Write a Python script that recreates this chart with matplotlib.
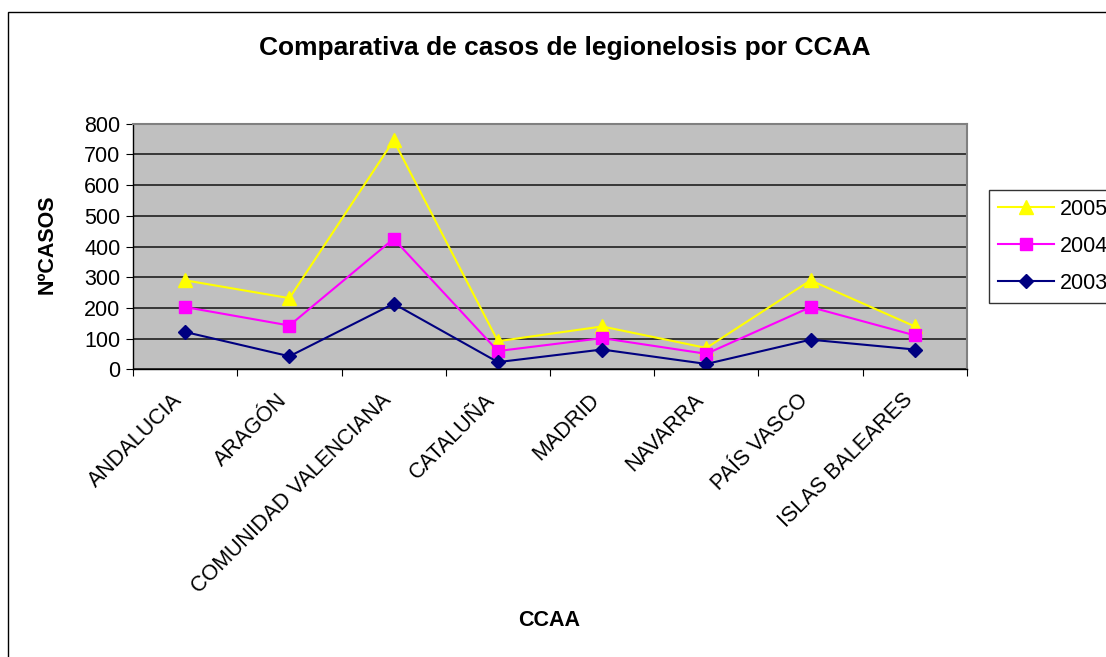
import matplotlib.pyplot as plt
import matplotlib.transforms as mtransforms
from matplotlib.patches import Rectangle

# Data
regiones = ['ANDALUCIA', 'ARAGÓN', 'COMUNIDAD VALENCIANA', 'CATALUÑA',
            'MADRID', 'NAVARRA', 'PAÍS VASCO', 'ISLAS BALEARES']
casos_2005 = [290, 232, 745, 92, 140, 70, 290, 140]
casos_2004 = [203, 143, 425, 60, 102, 51, 203, 111]
casos_2003 = [122, 43, 214, 24, 65, 18, 97, 65]

plt.rcParams['font.family'] = ['Liberation Sans', 'DejaVu Sans']
FS = 15.5

fig = plt.figure(figsize=(11.06, 6.57), dpi=100)
ax = fig.add_axes([0.1203, 0.4376, 0.754, 0.3744])

# outer chart border (runs off the right and bottom edges)
fig.patches.append(Rectangle((8 / 1106, -0.1), 1.2, 1 - 12 / 657 + 0.1,
                             transform=fig.transFigure, fill=False,
                             ec='black', lw=1))

ax.set_facecolor('#C0C0C0')
x = [i + 0.5 for i in range(len(regiones))]

ax.plot(x, casos_2005, color='#FFFF00', marker='^', markersize=10.5, lw=1.5, label='2005')
ax.plot(x, casos_2004, color='#FF00FF', marker='s', markersize=8.5, lw=1.5, label='2004')
ax.plot(x, casos_2003, color='#000080', marker='D', markersize=7.5, lw=1.5, label='2003')

ax.set_xlim(0, len(regiones))
ax.set_ylim(0, 800)
ax.set_yticks(range(0, 801, 100))
ax.yaxis.grid(True, color='#202020', lw=1.2)
ax.set_axisbelow(True)

# category boundaries as ticks, names drawn as rotated texts under each point
ax.set_xticks(range(len(regiones) + 1))
ax.set_xticklabels([])
label_trans = ax.get_xaxis_transform() + mtransforms.ScaledTranslation(
    -13 / 100, -20 / 100, fig.dpi_scale_trans)
for xi, nombre in zip(x, regiones):
    ax.text(xi, 0, nombre, transform=label_trans, rotation=45, ha='right',
            va='top', rotation_mode='anchor', fontsize=FS)
ax.tick_params(axis='x', which='major', length=5, direction='out', color='black')
ax.tick_params(axis='y', length=5, direction='out', labelsize=FS, color='black', pad=4)

for side in ['top', 'right']:
    ax.spines[side].set_color('#808080')
    ax.spines[side].set_linewidth(1.5)
for side in ['left', 'bottom']:
    ax.spines[side].set_color('black')
    ax.spines[side].set_linewidth(1)

fig.text(47 / 1106, 1 - 244 / 657, 'NºCASOS', fontsize=FS, fontweight='bold',
         rotation=90, ha='center', va='center')
fig.text(549 / 1106, 1 - 620 / 657, 'CCAA', fontsize=FS, fontweight='bold',
         ha='center', va='center')
fig.text(565 / 1106, 1 - 48 / 657, 'Comparativa de casos de legionelosis por CCAA',
         fontsize=19, fontweight='bold', ha='center', va='center')

leg = ax.legend(loc='upper left', bbox_to_anchor=(989 / 1106, 1 - 190 / 657),
                bbox_transform=fig.transFigure, fontsize=FS, frameon=True,
                fancybox=False, edgecolor='black', borderaxespad=0,
                borderpad=0.4, handlelength=2.6, handletextpad=0.3,
                labelspacing=0.75)
leg.get_frame().set_linewidth(1)

fig.savefig('out.png', dpi=100)
